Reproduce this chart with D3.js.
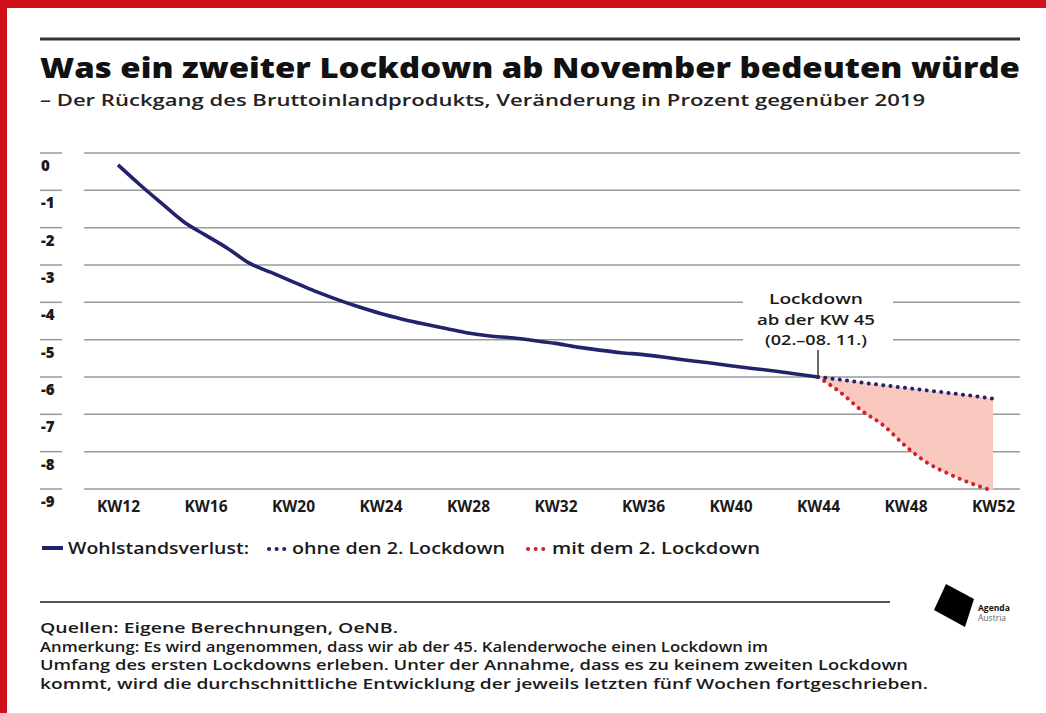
<!DOCTYPE html>
<html>
<head>
<meta charset="utf-8">
<script src="https://cdn.jsdelivr.net/npm/d3@7"></script>
<style>
  body { margin: 0; background: #fff; }
  svg { display: block; font-family: "Open Sans", "DejaVu Sans", sans-serif; }
</style>
</head>
<body>
<svg id="chart" width="1046" height="713"></svg>
<script>
// data
var weeks = d3.range(12, 53)            // KW12 .. KW52
var tickWeeks = [12, 16, 20, 24, 28, 32, 36, 40, 44, 48, 52]
var yTicks = [0, -1, -2, -3, -4, -5, -6, -7, -8, -9]

// Wohlstandsverlust KW12..KW44
var actual = [-0.32, -0.85, -1.35, -1.84, -2.2, -2.55, -2.95, -3.2, -3.45, -3.7,
  -3.92, -4.12, -4.3, -4.45, -4.58, -4.7, -4.82, -4.9, -4.95, -5.02,
  -5.1, -5.2, -5.28, -5.35, -5.4, -5.47, -5.55, -5.62, -5.7, -5.77,
  -5.84, -5.92, -6.0]
// KW44..KW52
var ohneLockdown = [-6.0, -6.07, -6.15, -6.22, -6.29, -6.36, -6.43, -6.5, -6.58]
var mitLockdown = [-6.0, -6.4, -6.9, -7.3, -7.85, -8.3, -8.6, -8.85, -9.05]

var navy = '#22236b', red = '#d2202c', fill = '#f9c9c0', grid = '#9a9a9a', ink = '#1a1a1a'

var svg = d3.select('#chart')

// red frame (top and left edge)
svg.append('rect').attr('x', 0).attr('y', 0).attr('width', 1046).attr('height', 8).attr('fill', '#d0101a')
svg.append('rect').attr('x', 0).attr('y', 0).attr('width', 7).attr('height', 713).attr('fill', '#d0101a')

// header
svg.append('line').attr('x1', 40).attr('x2', 1020).attr('y1', 39).attr('y2', 39)
  .attr('stroke', '#333').attr('stroke-width', 3)
svg.append('text').attr('x', 40).attr('y', 78)
  .attr('font-size', 29).attr('font-weight', 800).attr('fill', '#111')
  .attr('textLength', 980).attr('lengthAdjust', 'spacingAndGlyphs')
  .text('Was ein zweiter Lockdown ab November bedeuten würde')
svg.append('text').attr('x', 40).attr('y', 106)
  .attr('font-size', 17).attr('font-weight', 600).attr('fill', '#222')
  .attr('textLength', 885).attr('lengthAdjust', 'spacingAndGlyphs')
  .text('– Der Rückgang des Bruttoinlandprodukts, Veränderung in Prozent gegenüber 2019')

// scales
var x = d3.scaleLinear().domain([12, 52]).range([118, 993])
var y = d3.scaleLinear().domain([0, -9]).range([153, 489])

// gridlines
svg.append('g').selectAll('line').data(yTicks).enter().append('line')
  .attr('x1', 84).attr('x2', 1020)
  .attr('y1', function(d) { return y(d) }).attr('y2', function(d) { return y(d) })
  .attr('stroke', grid).attr('stroke-width', 1.5)

// y axis labels with small rule above each
var yAxis = svg.append('g')
yAxis.selectAll('line').data(yTicks).enter().append('line')
  .attr('x1', 40).attr('x2', 62)
  .attr('y1', function(d) { return y(d) }).attr('y2', function(d) { return y(d) })
  .attr('stroke', grid).attr('stroke-width', 1.5)
yAxis.selectAll('text').data(yTicks).enter().append('text')
  .attr('x', 41).attr('y', function(d) { return y(d) + 18 })
  .attr('font-size', 15).attr('font-weight', 800).attr('fill', ink)
  .text(function(d) { return d })

// x axis via d3 axis, no domain / ticks drawn
var xAxis = svg.append('g').attr('transform', 'translate(0,' + 509 + ')')
  .call(d3.axisBottom(x).tickValues(tickWeeks).tickSize(0).tickFormat(function(d) { return 'KW' + d }))
xAxis.select('.domain').remove()
xAxis.selectAll('text').attr('font-size', 15.5).attr('font-weight', 700).attr('fill', ink)
  .attr('font-family', '"Open Sans", sans-serif').attr('dy', 0)

// shaded difference
var futureWeeks = d3.range(44, 53)
var band = futureWeeks.map(function(w, i) { return { w: w, hi: ohneLockdown[i], lo: mitLockdown[i] } })
svg.append('path').datum(band)
  .attr('fill', fill)
  .attr('d', d3.area().x(function(d) { return x(d.w) }).y0(function(d) { return y(d.hi) }).y1(function(d) { return y(d.lo) }).curve(d3.curveMonotoneX))

// actual line
svg.append('path').datum(actual)
  .attr('fill', 'none').attr('stroke', navy).attr('stroke-width', 3.6).attr('stroke-linejoin', 'round')
  .attr('d', d3.line().x(function(d, i) { return x(weeks[i]) }).y(function(d) { return y(d) }).curve(d3.curveMonotoneX))

// scenarios (dotted)
function dotted(values, color) {
  svg.append('path').datum(values)
    .attr('fill', 'none').attr('stroke', color).attr('stroke-width', 4)
    .attr('stroke-dasharray', '0.1 7.2').attr('stroke-linecap', 'round')
    .attr('d', d3.line().x(function(d, i) { return x(futureWeeks[i]) }).y(function(d) { return y(d) }).curve(d3.curveMonotoneX))
}
dotted(mitLockdown, red)
dotted(ohneLockdown, navy)

// annotation
var ax = x(44)
svg.append('rect').attr('x', ax - 75).attr('y', 288).attr('width', 150).attr('height', 60).attr('fill', '#fff')
svg.append('line').attr('x1', ax).attr('x2', ax).attr('y1', 350).attr('y2', y(-6))
  .attr('stroke', '#333').attr('stroke-width', 1.5)
var ann = ['Lockdown', 'ab der KW 45', '(02.–08. 11.)']
var annW = [94, 118, 102]
svg.append('g').selectAll('text').data(ann).enter().append('text')
  .attr('x', ax - 2).attr('y', function(d, i) { return 304 + i * 20.5 })
  .attr('text-anchor', 'middle').attr('font-size', 14).attr('font-weight', 600).attr('fill', ink)
  .attr('textLength', function(d, i) { return annW[i] }).attr('lengthAdjust', 'spacingAndGlyphs')
  .text(function(d) { return d })

// legend
var lg = svg.append('g').attr('font-size', 15.5).attr('font-weight', 600).attr('fill', ink)
lg.append('line').attr('x1', 42).attr('x2', 63).attr('y1', 548).attr('y2', 548)
  .attr('stroke', navy).attr('stroke-width', 4)
lg.append('text').attr('x', 68).attr('y', 554).text('Wohlstandsverlust:')
  .attr('textLength', 181).attr('lengthAdjust', 'spacingAndGlyphs')
function legendDots(x0, color) {
  lg.append('line').attr('x1', x0).attr('x2', x0 + 16).attr('y1', 549).attr('y2', 549)
    .attr('stroke', color).attr('stroke-width', 4).attr('stroke-linecap', 'round')
    .attr('stroke-dasharray', '0.1 7.5')
}
legendDots(269, navy)
lg.append('text').attr('x', 292).attr('y', 554).text('ohne den 2. Lockdown')
  .attr('textLength', 213).attr('lengthAdjust', 'spacingAndGlyphs')
legendDots(528, red)
lg.append('text').attr('x', 552).attr('y', 554).text('mit dem 2. Lockdown')
  .attr('textLength', 208).attr('lengthAdjust', 'spacingAndGlyphs')

// footer
svg.append('line').attr('x1', 40).attr('x2', 890).attr('y1', 602).attr('y2', 602)
  .attr('stroke', '#555').attr('stroke-width', 2)
var notes = [
  'Quellen: Eigene Berechnungen, OeNB.',
  'Anmerkung: Es wird angenommen, dass wir ab der 45. Kalenderwoche einen Lockdown im',
  'Umfang des ersten Lockdowns erleben. Unter der Annahme, dass es zu keinem zweiten Lockdown',
  'kommt, wird die durchschnittliche Entwicklung der jeweils letzten fünf Wochen fortgeschrieben.'
]
var noteW = [358, 728, 868, 888]
svg.append('g').selectAll('text').data(notes).enter().append('text')
  .attr('x', 40).attr('y', function(d, i) { return 633 + i * 18.5 })
  .attr('font-size', 15).attr('font-weight', 600).attr('fill', ink)
  .attr('textLength', function(d, i) { return noteW[i] }).attr('lengthAdjust', 'spacingAndGlyphs')
  .text(function(d) { return d })

// logo
svg.append('path').attr('d', 'M946,584 L974,599 L965,627 L934,610 Z').attr('fill', '#000')
svg.append('text').attr('x', 978).attr('y', 611).attr('font-size', 8.5).attr('font-weight', 700).attr('fill', '#111').text('Agenda')
svg.append('text').attr('x', 978).attr('y', 621).attr('font-size', 8.5).attr('fill', '#666').text('Austria')
</script>
</body>
</html>
